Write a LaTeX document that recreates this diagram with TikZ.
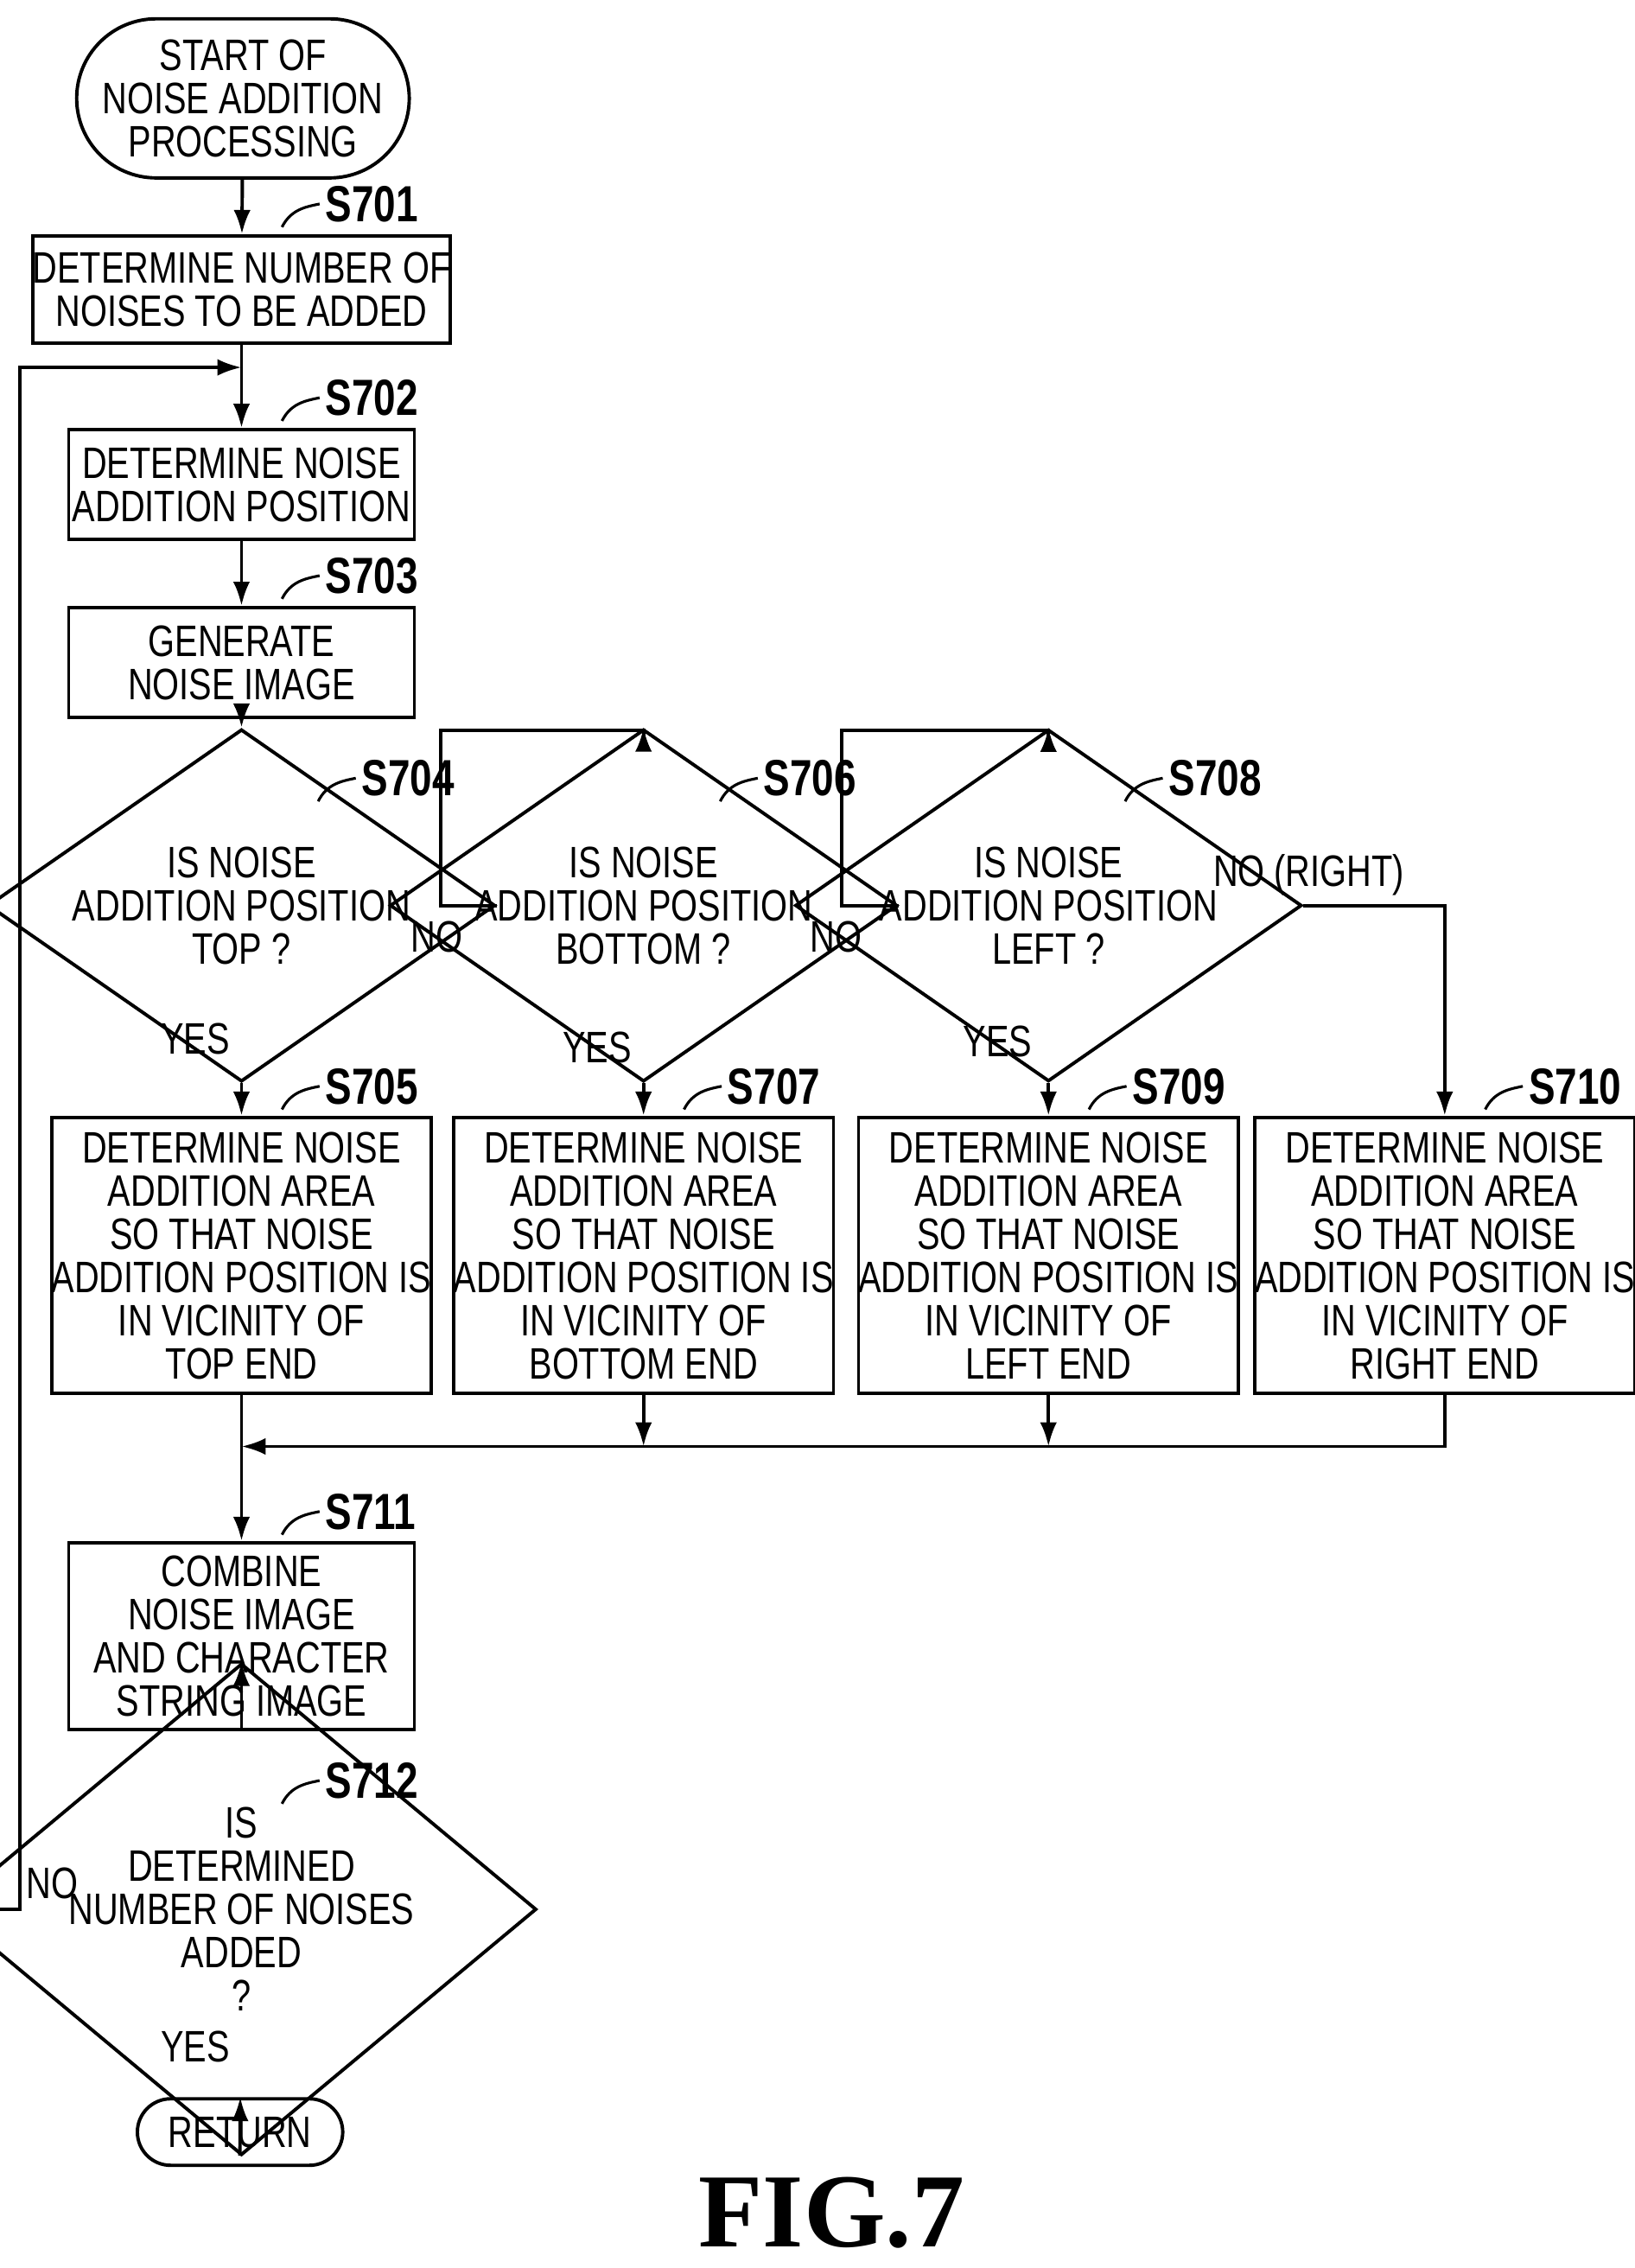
\documentclass[tikz,border=0pt]{standalone}
\usepackage{fontspec}
\setmainfont{Liberation Sans}[FakeStretch=0.78]
\newfontfamily\figfont{Liberation Serif}
\usetikzlibrary{shapes.geometric,shapes.misc,arrows.meta}
\tikzset{
  box/.style={draw,line width=2pt,minimum width=239*0.3mm,align=center,inner sep=0pt},
  dec/.style={draw,diamond,line width=2pt,minimum width=239*0.3mm,minimum height=166*0.3mm,align=center,inner sep=0pt,aspect=1.44},
  term/.style={draw,rounded rectangle,line width=2pt,align=center,inner sep=0pt},
  steplab/.style={font=\fontsize{30}{30}\selectfont\bfseries},
  lab/.style={font=\fontsize{26}{26}\selectfont},
  flow/.style={line width=2pt,-{Latex[length=5mm,width=3.5mm]}},
  tick/.style={line width=1.6pt}
}
\newcommand{\steplabel}[3]{%
  \draw[tick] (#1+28,#2-6) .. controls (#1+34,#2-18) and (#1+44,#2-20) .. (#1+54,#2-22);
  \node[steplab,anchor=west] at (#1+54,#2-22) {#3};}
\begin{document}
\begin{tikzpicture}[x=0.03cm,y=-0.03cm,every node/.style={font=\fontsize{26}{25.5}\selectfont}]
\useasboundingbox (0,0) rectangle (1130,1568);
%% nodes
\node[term,minimum width=222*0.3mm,minimum height=110*0.3mm] (start) at (168,68) {START OF\\NOISE ADDITION\\PROCESSING};
\node[box,minimum height=74*0.3mm] (s701) at (167,200) {DETERMINE NUMBER OF\\NOISES TO BE ADDED};
\node[box,minimum height=76*0.3mm] (s702) at (167,335) {DETERMINE NOISE\\ADDITION POSITION};
\node[box,minimum height=76*0.3mm] (s703) at (167,458) {GENERATE\\NOISE IMAGE};
\node[dec] (s704) at (167,626) {IS NOISE\\ADDITION POSITION\\TOP ?};
\node[dec] (s706) at (445,626) {IS NOISE\\ADDITION POSITION\\BOTTOM ?};
\node[dec] (s708) at (725,626) {IS NOISE\\ADDITION POSITION\\LEFT ?};
\node[box,minimum height=191*0.3mm] (s705) at (167,868) {DETERMINE NOISE\\ADDITION AREA\\SO THAT NOISE\\ADDITION POSITION IS\\IN VICINITY OF\\TOP END};
\node[box,minimum height=191*0.3mm] (s707) at (445,868) {DETERMINE NOISE\\ADDITION AREA\\SO THAT NOISE\\ADDITION POSITION IS\\IN VICINITY OF\\BOTTOM END};
\node[box,minimum height=191*0.3mm] (s709) at (725,868) {DETERMINE NOISE\\ADDITION AREA\\SO THAT NOISE\\ADDITION POSITION IS\\IN VICINITY OF\\LEFT END};
\node[box,minimum height=191*0.3mm] (s710) at (999,868) {DETERMINE NOISE\\ADDITION AREA\\SO THAT NOISE\\ADDITION POSITION IS\\IN VICINITY OF\\RIGHT END};
\node[box,minimum height=129*0.3mm] (s711) at (167,1131) {COMBINE\\NOISE IMAGE\\AND CHARACTER\\STRING IMAGE};
\node[dec,minimum height=200*0.3mm,aspect=1.2] (s712) at (167,1320) {IS\\DETERMINED\\NUMBER OF NOISES\\ADDED\\?};
\node[term,minimum width=142*0.3mm,minimum height=46*0.3mm] (ret) at (166,1474) {RETURN};
\node[font=\figfont\fontsize{62}{62}\selectfont\bfseries] (fig) at (575,1530) {FIG.7};
%% step labels
\steplabel{167}{163}{S701}
\steplabel{167}{297}{S702}
\steplabel{167}{420}{S703}
\steplabel{192}{560}{S704}
\steplabel{470}{560}{S706}
\steplabel{750}{560}{S708}
\steplabel{167}{773}{S705}
\steplabel{445}{773}{S707}
\steplabel{725}{773}{S709}
\steplabel{999}{773}{S710}
\steplabel{167}{1067}{S711}
\steplabel{167}{1253}{S712}
%% connectors
\coordinate (loop) at (167,254);
\coordinate (merge) at (167,1000);
\draw[flow] (start) -- (s701);
\draw[flow] (s701) -- (s702);
\draw[flow] (s702) -- (s703);
\draw[flow] (s703) -- (s704);
\draw[flow] (s704) -- (s705);
\draw[flow] (s706) -- (s707);
\draw[flow] (s708) -- (s709);
\draw[flow] (s704.east) -- (305,626) -- (305,505) -- (445,505) -- (s706.north);
\draw[flow] (s706.east) -- (582,626) -- (582,505) -- (725,505) -- (s708.north);
\draw[flow] (s708.east) -- (999,626) -- (s710.north);
\draw[flow] (s707.south) -- (445,1000);
\draw[flow] (s709.south) -- (725,1000);
\draw[flow] (s710.south) -- (999,1000) -- (merge);
\draw[flow] (s705) -- (s711);
\draw[flow] (s711) -- (s712);
\draw[flow] (s712) -- (ret);
\draw[flow] (s712.west) -- (14,1320) -- (14,254) -- (loop);
%% branch labels
\node[lab] at (302,648) {NO};
\node[lab] at (578,648) {NO};
\node[lab] at (905,605) {NO (RIGHT)};
\node[lab] at (135,718) {YES};
\node[lab] at (413,724) {YES};
\node[lab] at (690,720) {YES};
\node[lab] at (36,1302) {NO};
\node[lab] at (135,1415) {YES};
\end{tikzpicture}
\end{document}
